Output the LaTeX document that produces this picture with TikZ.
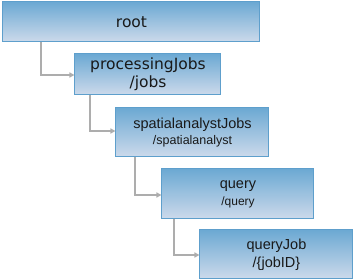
\documentclass[tikz,border=0pt]{standalone}
\usepackage{fontspec}
\setmainfont{Liberation Sans}
\newfontfamily\verd{DejaVu Sans}
\usetikzlibrary{arrows.meta}
\definecolor{boxtop}{HTML}{6CA9D3}
\definecolor{boxbot}{HTML}{CDDAEB}
\definecolor{boxline}{HTML}{5E9FCC}
\definecolor{linkgray}{HTML}{ADADAD}
\tikzset{
  boxnode/.style={draw=boxline, line width=1pt, top color=boxtop, bottom color=boxbot,
    rectangle, inner sep=0pt, align=center, text=black!90},
  link/.style={draw=linkgray, line width=1.8pt, -{Triangle[length=5pt,width=5pt]}}
}
\begin{document}
\begin{tikzpicture}[x=1pt,y=-1pt]
\useasboundingbox (0,0) rectangle (360,280);
\node[boxnode, minimum width=257pt, minimum height=40pt, font={\verd\fontsize{15.5}{18}\selectfont}] (root) at (131.5,22) {root};
\node[boxnode, minimum width=146pt, minimum height=41pt, font={\verd\fontsize{15.5}{18}\selectfont}] (pj) at (148,74.5) {processingJobs\\/jobs};
\node[boxnode, minimum width=153pt, minimum height=49pt, font={\fontsize{14.5}{15.5}\selectfont}] (sj) at (192.5,132.5) {spatialanalystJobs\\{\fontsize{12.5}{14}\selectfont /spatialanalyst}};
\node[boxnode, minimum width=152pt, minimum height=50pt, font={\fontsize{14.5}{17}\selectfont}] (q) at (238,194) {query\\{\fontsize{12}{14}\selectfont /query}};
\node[boxnode, minimum width=153pt, minimum height=49pt, font={\fontsize{14.5}{18}\selectfont}] (qj) at (276.5,254.5) {queryJob\\/\{jobID\}};
\coordinate (c1) at (41,75);
\coordinate (c2) at (90,131);
\coordinate (c3) at (135,195);
\coordinate (c4) at (174,255);
\draw[link] (root.south -| c1) |- (pj.west |- c1);
\draw[link] (pj.south -| c2) |- (sj.west |- c2);
\draw[link] (sj.south -| c3) |- (q.west |- c3);
\draw[link] (q.south -| c4) |- (qj.west |- c4);
\end{tikzpicture}
\end{document}
